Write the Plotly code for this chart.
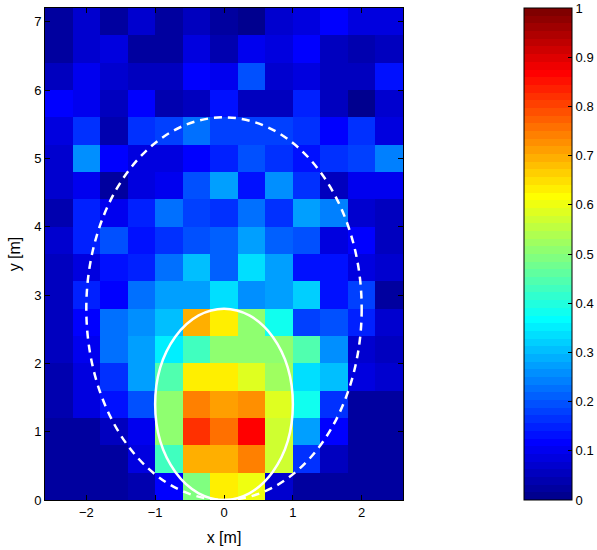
import plotly.graph_objects as go

# cell centres [m]
x_centers = [-2.4, -2.0, -1.6, -1.2, -0.8, -0.4, 0.0, 0.4, 0.8, 1.2, 1.6, 2.0, 2.4]
y_centers = [0.2, 0.6, 1.0, 1.4, 1.8, 2.2, 2.6, 3.0, 3.4, 3.8, 4.2, 4.6, 5.0, 5.4, 5.8, 6.2, 6.6, 7.0]

# values, bottom row first
z = [
    [0.03, 0.03, 0.03, 0.04, 0.12, 0.49, 0.63, 0.60, 0.07, 0.03, 0.03, 0.03, 0.03],
    [0.03, 0.03, 0.03, 0.08, 0.43, 0.70, 0.70, 0.74, 0.57, 0.17, 0.05, 0.03, 0.03],
    [0.03, 0.03, 0.06, 0.10, 0.50, 0.82, 0.75, 0.87, 0.57, 0.28, 0.12, 0.03, 0.03],
    [0.04, 0.08, 0.13, 0.19, 0.50, 0.74, 0.71, 0.73, 0.58, 0.39, 0.16, 0.03, 0.03],
    [0.04, 0.08, 0.17, 0.27, 0.45, 0.63, 0.64, 0.58, 0.52, 0.33, 0.30, 0.08, 0.07],
    [0.06, 0.10, 0.22, 0.28, 0.35, 0.43, 0.50, 0.50, 0.50, 0.45, 0.26, 0.07, 0.05],
    [0.06, 0.12, 0.22, 0.25, 0.31, 0.69, 0.63, 0.50, 0.38, 0.18, 0.19, 0.15, 0.07],
    [0.06, 0.15, 0.12, 0.22, 0.27, 0.27, 0.33, 0.25, 0.27, 0.32, 0.14, 0.18, 0.02],
    [0.05, 0.09, 0.14, 0.15, 0.23, 0.31, 0.21, 0.34, 0.28, 0.13, 0.13, 0.08, 0.07],
    [0.07, 0.15, 0.19, 0.14, 0.17, 0.20, 0.21, 0.28, 0.21, 0.20, 0.08, 0.12, 0.05],
    [0.04, 0.15, 0.10, 0.15, 0.22, 0.18, 0.16, 0.22, 0.17, 0.27, 0.24, 0.07, 0.05],
    [0.07, 0.10, 0.03, 0.08, 0.10, 0.20, 0.27, 0.14, 0.26, 0.17, 0.06, 0.10, 0.10],
    [0.07, 0.25, 0.12, 0.08, 0.09, 0.12, 0.15, 0.19, 0.17, 0.14, 0.16, 0.18, 0.24],
    [0.08, 0.16, 0.04, 0.17, 0.18, 0.23, 0.18, 0.18, 0.18, 0.17, 0.12, 0.16, 0.09],
    [0.12, 0.10, 0.06, 0.11, 0.04, 0.05, 0.14, 0.05, 0.06, 0.15, 0.05, 0.01, 0.07],
    [0.06, 0.10, 0.07, 0.06, 0.05, 0.11, 0.10, 0.19, 0.07, 0.09, 0.06, 0.06, 0.13],
    [0.03, 0.07, 0.08, 0.02, 0.02, 0.08, 0.04, 0.10, 0.08, 0.12, 0.05, 0.04, 0.06],
    [0.03, 0.07, 0.02, 0.07, 0.02, 0.05, 0.02, 0.01, 0.07, 0.08, 0.12, 0.09, 0.09],
]

# ellipses: (centre x, centre y, half width, half height)
inner_ellipse = (0.0, 1.4, 1.0, 1.4)
outer_ellipse = (0.0, 2.8, 2.0, 2.8)


def jet(m=64):
    # same construction as matlab's jet(m)
    n = -(-m // 4)
    u = [i / n for i in range(1, n + 1)] + [1.0] * (n - 1) + [i / n for i in range(n, 0, -1)]
    g0 = -(-n // 2) - (1 if m % 4 == 1 else 0)
    rgb = [[0.0, 0.0, 0.0] for _ in range(m)]
    for k, val in enumerate(u):
        gi = g0 + k
        for ch, idx in ((0, gi + n), (1, gi), (2, gi - n)):
            if 0 <= idx < m:
                rgb[idx][ch] = val
    return rgb


colors = jet(64)
colorscale = []
for i, (r, g, b) in enumerate(colors):
    c = f"rgb({round(r * 255)},{round(g * 255)},{round(b * 255)})"
    colorscale.append([i / 64, c])
    colorscale.append([(i + 1) / 64, c])

font = "Liberation Sans, Arial, Helvetica, sans-serif"

fig = go.Figure()
fig.add_trace(go.Heatmap(
    x=x_centers, y=y_centers, z=z,
    zmin=0, zmax=1, colorscale=colorscale,
    colorbar=dict(
        x=1.338, xanchor="left", y=0.5, yanchor="middle", xpad=0, ypad=0,
        len=1, lenmode="fraction", thickness=48, thicknessmode="pixels",
        outlinewidth=1, outlinecolor="black",
        tickvals=[i / 10 for i in range(11)],
        ticktext=["0", "0.1", "0.2", "0.3", "0.4", "0.5", "0.6", "0.7", "0.8", "0.9", "1"],
        ticks="inside", ticklen=4, tickcolor="black",
        ticklabeloverflow="allow",
        tickfont=dict(family=font, size=13, color="black"),
    ),
))

for (cx, cy, a, b), dash in ((inner_ellipse, "solid"), (outer_ellipse, "8px,6px")):
    fig.add_shape(type="circle", xref="x", yref="y",
                  x0=cx - a, x1=cx + a, y0=cy - b, y1=cy + b,
                  line=dict(color="white", width=2.5, dash=dash))

axis_common = dict(showgrid=False, zeroline=False, ticks="inside", ticklen=5,
                   tickcolor="black", mirror="ticks", showline=True,
                   linecolor="black", linewidth=1,
                   tickfont=dict(family=font, size=13, color="black"),
                   title_font=dict(family=font, size=16, color="black"))

fig.update_xaxes(range=[-2.6, 2.6], tickvals=[-2, -1, 0, 1, 2],
                 title_text="x [m]", title_standoff=13, **axis_common)
fig.update_yaxes(range=[0, 7.2], tickvals=[0, 1, 2, 3, 4, 5, 6, 7],
                 title_text="y [m]", title_standoff=9, **axis_common)

fig.update_layout(width=597, height=550,
                  margin=dict(l=45, r=194, t=8, b=50, autoexpand=False),
                  paper_bgcolor="white", plot_bgcolor="white", showlegend=False)

# the page's default body margin shifts everything by 8px, drop it
fig.write_html("out.html", config={"displayModeBar": False},
               post_script="document.body.style.margin='0';")
